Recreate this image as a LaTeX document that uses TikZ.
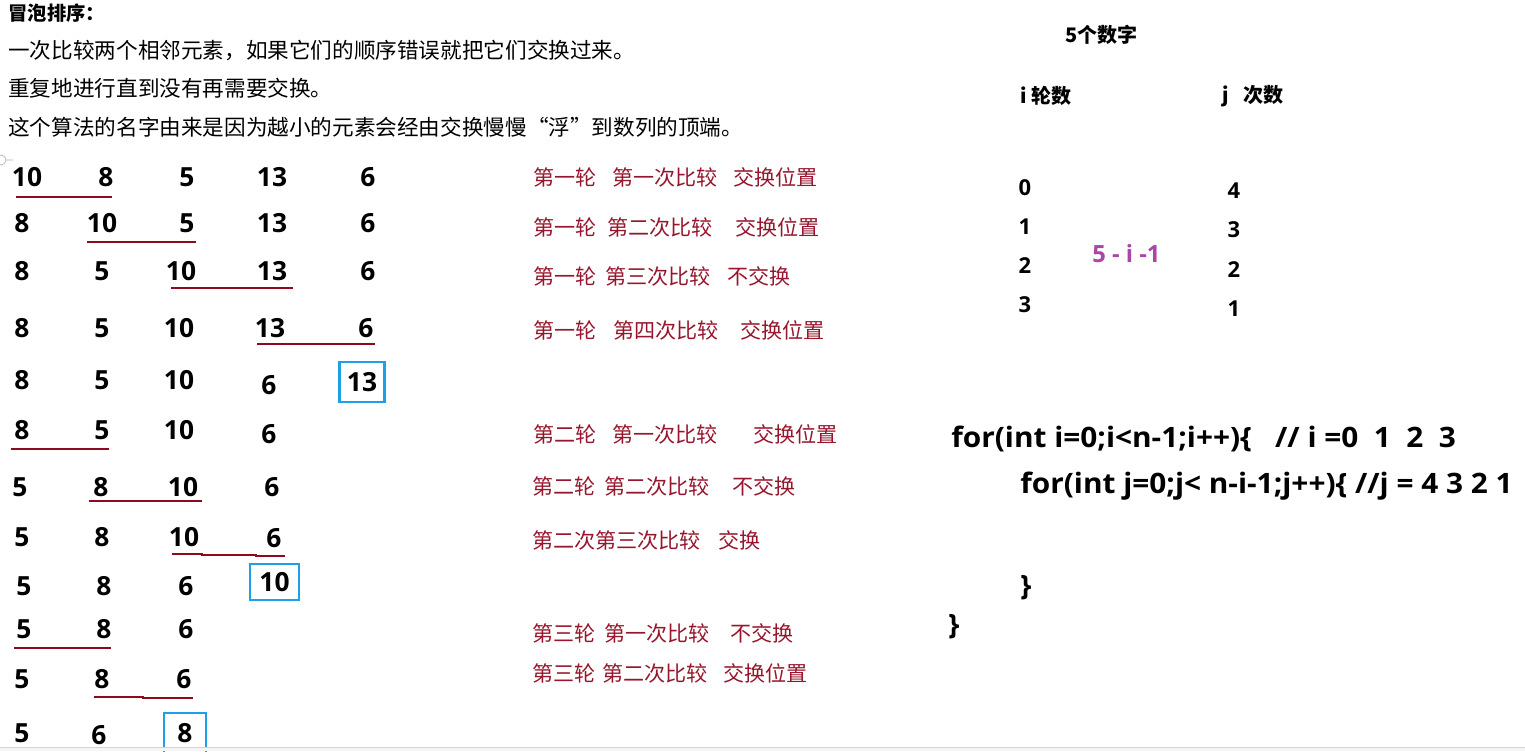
\documentclass[tikz,border=0pt]{standalone}
\usepackage{fontspec}
\setmainfont{Noto Sans CJK SC}
\newfontfamily\numfont{Open Sans}
\usetikzlibrary{calc}
\definecolor{notered}{RGB}{150,22,45}
\definecolor{linered}{RGB}{140,10,30}
\definecolor{boxblue}{RGB}{30,160,230}
\definecolor{formula}{RGB}{170,70,170}
\newcommand{\codeline}[1]{\scalebox{1.06}[1]{#1}}
\tikzset{
  num/.style={font=\numfont\bfseries\fontsize{15}{18}\selectfont, inner sep=0pt},
  cnum/.style={font=\numfont\bfseries\fontsize{12.5}{15}\selectfont, inner sep=0pt},
  note/.style={text=notered, font=\fontsize{12}{14}\selectfont, anchor=west, inner sep=0pt},
  intro/.style={font=\fontsize{12.3}{14}\selectfont, anchor=west, inner sep=0pt},
  colhead/.style={font=\bfseries\fontsize{11.4}{14}\selectfont, anchor=west, inner sep=0pt},
  code/.style={font=\numfont\bfseries\fontsize{16}{19}\selectfont, anchor=base west, inner sep=0pt},
  uline/.style={draw=linered, line width=1.4pt},
  donebox/.style={draw=boxblue, line width=1.6pt}
}
\begin{document}
\begin{tikzpicture}[x=0.02cm,y=-0.02cm]
    \useasboundingbox (0,0) rectangle (1525,751);
    % intro text
    \node[intro,font=\bfseries\fontsize{11}{14}\selectfont] (title) at (8,13) {冒泡排序：};
    \node[intro] (intro1) at (8,50) {一次比较两个相邻元素，如果它们的顺序错误就把它们交换过来。};
    \node[intro] (intro2) at (8,88) {重复地进行直到没有再需要交换。};
    \node[intro] (intro3) at (8,127) {这个算法的名字由来是因为越小的元素会经由交换慢慢“浮”到数列的顶端。};
    \draw[gray!60] (1,160) circle (5) (6,160) -- (13,160);

    % round 1
    \node[num] (n1a) at (27,177) {10};  \node[num] (n1b) at (106,177) {8};
    \node[num] (n1c) at (187,177) {5};  \node[num] (n1d) at (272,177) {13};
    \node[num] (n1e) at (368,177) {6};
    \draw[uline] (16,197) -- (112,197);
    \node[num] (n2a) at (22,223) {8};   \node[num] (n2b) at (102,223) {10};
    \node[num] (n2c) at (187,223) {5};  \node[num] (n2d) at (272,223) {13};
    \node[num] (n2e) at (368,223) {6};
    \draw[uline] (87,242) -- (196,242);
    \node[num] (n3a) at (22,271) {8};   \node[num] (n3b) at (102,271) {5};
    \node[num] (n3c) at (181,271) {10}; \node[num] (n3d) at (272,271) {13};
    \node[num] (n3e) at (368,271) {6};
    \draw[uline] (171,288) -- (293,288);
    \node[num] (n4a) at (22,328) {8};   \node[num] (n4b) at (102,328) {5};
    \node[num] (n4c) at (179,328) {10}; \node[num] (n4d) at (270,328) {13};
    \node[num] (n4e) at (366,328) {6};
    \draw[uline] (257,344) -- (375,344);
    \node[num] (n5a) at (22,380) {8};   \node[num] (n5b) at (102,380) {5};
    \node[num] (n5c) at (179,380) {10}; \node[num] (n5d) at (269,385) {6};
    \node[num,donebox,minimum width=0.9cm,minimum height=0.8cm] (n5e) at (362,382) {13};

    % round 2
    \node[num] (n6a) at (22,430) {8};   \node[num] (n6b) at (102,430) {5};
    \node[num] (n6c) at (179,430) {10}; \node[num] (n6d) at (269,434) {6};
    \draw[uline] (11,449) -- (109,449);
    \node[num] (n7a) at (20,487) {5};   \node[num] (n7b) at (101,487) {8};
    \node[num] (n7c) at (183,487) {10}; \node[num] (n7d) at (272,487) {6};
    \draw[uline] (89,501) -- (202,501);
    \node[num] (n8a) at (22,537) {5};   \node[num] (n8b) at (102,537) {8};
    \node[num] (n8c) at (184,537) {10}; \node[num] (n8d) at (274,538) {6};
    \draw[uline] (172,554) -- (202,554) -- (202,555) -- (256,555) -- (256,556) -- (285,556);
    \node[num] (n9a) at (24,586) {5};   \node[num] (n9b) at (104,586) {8};
    \node[num] (n9c) at (186,586) {6};
    \node[num,donebox,minimum width=0.98cm,minimum height=0.72cm] (n9d) at (274.5,582) {10};

    % round 3
    \node[num] (n10a) at (24,629) {5};  \node[num] (n10b) at (104,629) {8};
    \node[num] (n10c) at (186,629) {6};
    \draw[uline] (14,648) -- (111,648);
    \node[num] (n11a) at (22,679) {5};  \node[num] (n11b) at (102,679) {8};
    \node[num] (n11c) at (184,679) {6};
    \draw[uline] (94,697) -- (143,697) -- (143,698) -- (193,698);
    \node[num] (n12a) at (22,733) {5};  \node[num] (n12b) at (99,735) {6};
    \node[num,donebox,minimum width=0.84cm,minimum height=0.8cm] (n12c) at (185,733) {8};

    % notes
    \node[note] (c1a) at (533,177) {第一轮}; \node[note] (c1b) at (612,177) {第一次比较}; \node[note] (c1c) at (733,177) {交换位置};
    \node[note] (c2a) at (533,227) {第一轮}; \node[note] (c2b) at (607,227) {第二次比较}; \node[note] (c2c) at (735,227) {交换位置};
    \node[note] (c3a) at (533,276) {第一轮}; \node[note] (c3b) at (605,276) {第三次比较}; \node[note] (c3c) at (727,276) {不交换};
    \node[note] (c4a) at (533,330) {第一轮}; \node[note] (c4b) at (613,330) {第四次比较}; \node[note] (c4c) at (740,330) {交换位置};
    \node[note] (c5a) at (533,434) {第二轮}; \node[note] (c5b) at (612,434) {第一次比较}; \node[note] (c5c) at (753,434) {交换位置};
    \node[note] (c6a) at (532,486) {第二轮}; \node[note] (c6b) at (604,486) {第二次比较}; \node[note] (c6c) at (732,486) {不交换};
    \node[note] (c7a) at (532,540) {第二次第三次比较}; \node[note] (c7b) at (718,540) {交换};
    \node[note] (c8a) at (532,633) {第三轮}; \node[note] (c8b) at (604,633) {第一次比较}; \node[note] (c8c) at (730,633) {不交换};
    \node[note] (c9a) at (532,673) {第三轮}; \node[note] (c9b) at (602,673) {第二次比较}; \node[note] (c9c) at (723,673) {交换位置};

    % counts
    \node[colhead] (head) at (1065,35) {5个数字};
    \node[colhead] (ihead) at (1020,96) {i 轮数};
    \node[colhead] (jhead) at (1222,96) {j\hspace{0.3cm}次数};
    \node[cnum] (i0) at (1025,188) {0}; \node[cnum] (i1) at (1025,227) {1};
    \node[cnum] (i2) at (1025,266) {2}; \node[cnum] (i3) at (1025,305) {3};
    \node[cnum] (j4) at (1234,191) {4}; \node[cnum] (j3) at (1234,230) {3};
    \node[cnum] (j2) at (1234,270) {2}; \node[cnum] (j1) at (1234,309) {1};
    \node[cnum,text=formula,font=\numfont\bfseries\fontsize{13.5}{16}\selectfont,anchor=west] (rule) at (1092,254) {5 - i -1};

    % code
    \node[code] (loop1) at (951,447) {\codeline{for(int i=0;i<n-1;i++)\{\ \ \ // i =0\ \ 1\ \ 2\ \ 3}};
    \node[code] (loop2) at (1020,493) {\codeline{for(int j=0;j< n-i-1;j++)\{ //j = 4 3 2 1}};
    \node[code] (close2) at (1020,595) {\}};
    \node[code] (close1) at (948,634) {\}};

    \fill[gray!8] (0,747) rectangle (1525,751);
    \draw[gray!35] (0,747) -- (1525,747);
\end{tikzpicture}
\end{document}
